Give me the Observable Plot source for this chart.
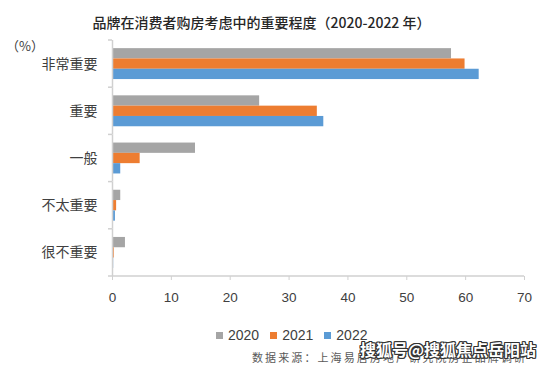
<!DOCTYPE html>
<html>
<head>
<meta charset="utf-8">
<script src="https://cdn.jsdelivr.net/npm/d3@7"></script>
<script src="https://cdn.jsdelivr.net/npm/@observablehq/plot@0.6"></script>
<style>
  html, body { margin: 0; padding: 0; background: #fff; }
  #wrap { position: relative; width: 543px; height: 367px; overflow: hidden; font-family: "Noto Sans CJK SC", sans-serif; }
  #chart { position: absolute; left: 0; top: 0; }
  .title { position: absolute; left: 0; width: 523px; top: 12px; text-align: center; font-size: 14px; font-weight: 500; color: #262626; white-space: nowrap; }
  .unit { position: absolute; left: 6px; top: 36px; font-size: 13px; color: #404040; }
  .legend { position: absolute; left: 216px; top: 327px; display: flex; font-family: "Liberation Sans", Arial, sans-serif; font-size: 14px; color: #404040; }
  .legend .item { display: flex; align-items: center; margin-right: 11px; }
  .legend .sw { width: 7px; height: 7px; margin-right: 5px; }
  .source { position: absolute; left: 252px; top: 349px; font-size: 11px; letter-spacing: 2.1px; color: #595959; white-space: nowrap; }
  .wm { position: absolute; left: 360px; top: 337px; font-size: 16px; font-weight: bold; color: #fff; white-space: nowrap;
        text-shadow: 1px 1px 0 #333, -1px -1px 0 #333, 1px -1px 0 #333, -1px 1px 0 #333, 0 1px 0 #333, 1px 0 0 #333, 0 -1px 0 #333, -1px 0 0 #333; }
</style>
</head>
<body>
<div id="wrap">
  <div id="chart"></div>
  <div class="title" id="title"></div>
  <div class="unit" id="unit"></div>
  <div class="legend" id="legend"></div>
  <div class="source" id="source"></div>
  <div class="wm" id="wm"></div>
</div>
<script>
const titleText = "品牌在消费者购房考虑中的重要程度（2020-2022 年）";
const unitText = "（%）";
const sourceText = "数据来源：上海易居房地产研究院房企品牌调研";
const watermarkText = "搜狐号@搜狐焦点岳阳站";

const categories = ["非常重要", "重要", "一般", "不太重要", "很不重要"];
const years = ["2020", "2021", "2022"];
const v2020 = [57.6, 25.0, 14.1, 1.4, 2.2];
const v2021 = [59.9, 34.8, 4.7, 0.7, 0.3];
const v2022 = [62.3, 35.9, 1.4, 0.5, 0.2];
const colors = ["#A5A5A5", "#ED7D31", "#5B9BD5"];
const xTicks = [0, 10, 20, 30, 40, 50, 60, 70];

const series = [v2020, v2021, v2022];
const data = categories.flatMap((c, i) => years.map((y, j) => ({cat: c, year: y, value: series[j][i]})));

const chart = Plot.plot({
  width: 543,
  height: 367,
  marginTop: 40,
  marginBottom: 91,
  marginLeft: 112,
  marginRight: 19,
  style: {background: "transparent", fontFamily: "'Noto Sans CJK SC', sans-serif", overflow: "visible"},
  x: {domain: [0, 70], axis: null},
  y: {domain: years, paddingInner: 0, paddingOuter: 0.79, round: false, axis: null},
  fy: {domain: categories, padding: 0, round: false, axis: null},
  color: {domain: years, range: colors},
  marks: [
    Plot.barX(data, {fy: "cat", y: "year", x: "value", fill: "year"}),
    Plot.ruleX([0], {stroke: "#d0d0d0", strokeWidth: 1.5}),
    Plot.axisFy({anchor: "left", tickSize: 0, tickPadding: 15, fontSize: 14, label: null, fill: "#404040"}),
    Plot.axisX({ticks: xTicks, tickSize: 4, tickPadding: 12, stroke: "#d0d0d0", label: null,
                fontSize: 13.5, fill: "#404040", fontFamily: "'Liberation Sans', Arial, sans-serif"})
  ]
});
document.getElementById("chart").appendChild(chart);

// Excel-style axis line and category boundary ticks, placed from Plot's scales
const xs = chart.scale("x"), fys = chart.scale("fy");
const svg = d3.select(chart);
const x0 = xs.apply(0), x1 = xs.apply(70);
const bounds = categories.map(c => fys.apply(c));
const bottom = fys.apply(categories[categories.length - 1]) + fys.bandwidth;
bounds.push(bottom);
const g = svg.append("g").attr("stroke", "#d0d0d0").attr("stroke-width", 1.5);
g.append("line").attr("x1", x0).attr("x2", x1).attr("y1", bottom).attr("y2", bottom);
g.selectAll("line.bt").data(bounds).join("line").attr("class", "bt")
  .attr("x1", x0 - 4).attr("x2", x0).attr("y1", d => d).attr("y2", d => d);

document.getElementById("title").textContent = titleText;
document.getElementById("unit").textContent = unitText;
document.getElementById("source").textContent = sourceText;
document.getElementById("wm").textContent = watermarkText;
const leg = d3.select("#legend");
years.forEach((y, i) => {
  const it = leg.append("div").attr("class", "item");
  it.append("div").attr("class", "sw").style("background", colors[i]);
  it.append("span").text(y);
});
</script>
</body>
</html>
